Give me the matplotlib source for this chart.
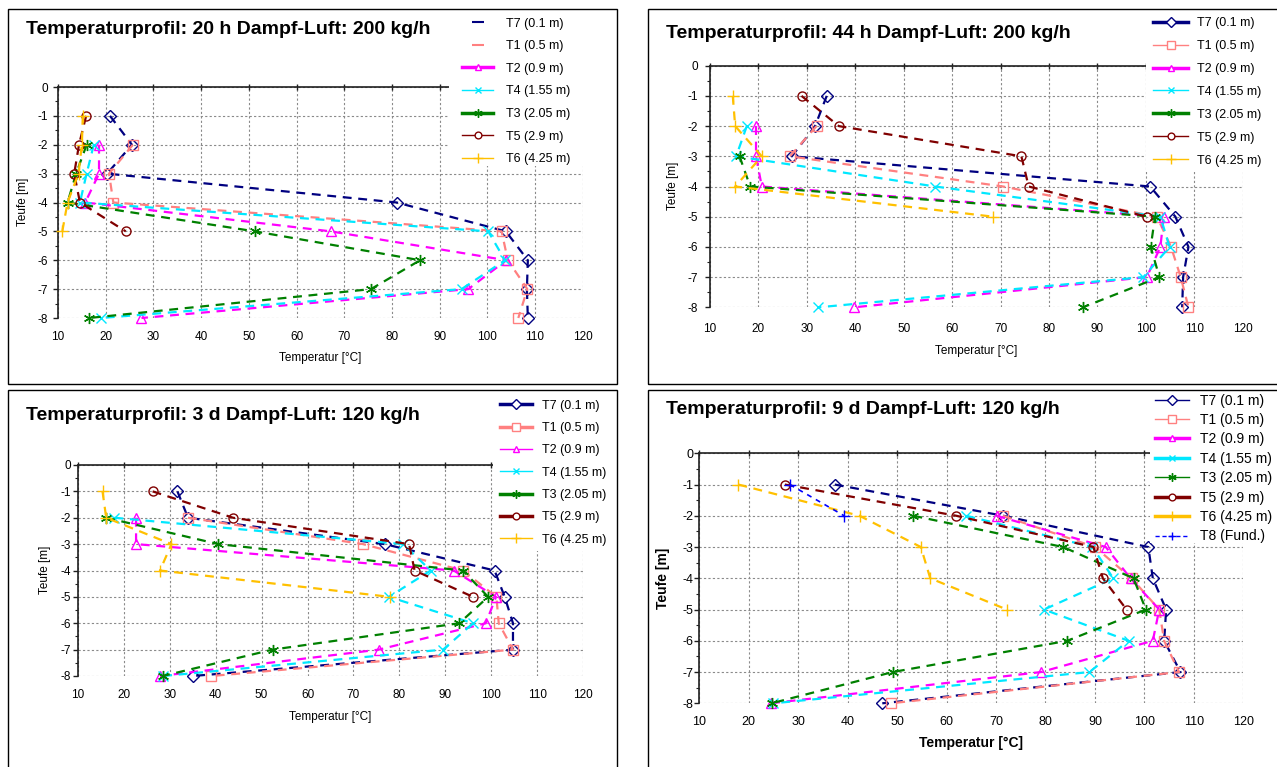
import matplotlib
matplotlib.use("Agg")
import matplotlib.pyplot as plt
from matplotlib.lines import Line2D
from matplotlib.patches import Rectangle
import numpy as np

nan = np.nan

# depth of the readings [m]
depth = [-1, -2, -3, -4, -5, -6, -7, -8]

# 20 h steam-air 200 kg/h
h20_T7 = [20.9, 25.5, 20.3, 81.0, 103.9, 108.5, 108.3, 108.5]
h20_T1 = [nan, 25.7, 20.7, 21.6, 103.0, 104.3, 108.4, 106.5]
h20_T2 = [nan, 18.6, 18.6, 15.7, 67.2, 104.0, 96.0, 27.5]
h20_T4 = [nan, 17.5, 16.0, 14.6, 100.2, 103.7, 94.6, 19.0]
h20_T3 = [nan, 16.0, 13.8, 12.0, 51.3, 85.9, 75.6, 16.5]
h20_T5 = [15.9, 14.4, 13.4, 14.6, 24.2, nan, nan, nan]
h20_T6 = [15.2, 15.0, 14.3, 12.0, 10.9, nan, nan, nan]

# 44 h steam-air 200 kg/h
h44_T7 = [34.1, 31.7, 26.9, 100.9, 106.1, 108.8, 107.7, 107.5]
h44_T1 = [nan, 32.0, 26.5, 70.5, 102.3, 105.2, 107.2, 108.8]
h44_T2 = [nan, 19.5, 19.5, 20.7, 103.7, 103.0, 100.2, 39.8]
h44_T4 = [nan, 17.6, 15.4, 56.5, 103.0, 104.9, 99.5, 32.4]
h44_T3 = [nan, nan, 16.1, 18.3, 101.9, 101.0, 102.8, 87.0]
h44_T5 = [28.9, 36.6, 74.3, 75.8, 100.2, nan, nan, nan]
h44_T6 = [14.7, 15.2, 20.7, 15.2, 68.5, nan, nan, nan]

# 3 d steam-air 120 kg/h
d3_T7 = [31.7, 34.0, 76.8, 100.7, 102.9, 104.7, 104.7, 35.0]
d3_T1 = [nan, 34.0, 72.1, 93.8, 101.1, 101.6, 104.7, 39.1]
d3_T2 = [nan, 22.7, 22.7, 91.8, 101.0, 98.8, 75.5, 27.9]
d3_T4 = [nan, 18.0, 80.8, 86.8, 77.7, 96.0, 89.5, 28.6]
d3_T3 = [nan, 16.2, 40.6, 93.8, 99.3, 93.0, 52.4, 28.5]
d3_T5 = [26.3, 43.8, 82.1, 83.3, 96.0, nan, nan, nan]
d3_T6 = [15.4, 16.2, 30.4, 27.9, 77.9, nan, nan, nan]

# 9 d steam-air 120 kg/h
d9_T7 = [37.4, 71.5, 100.8, 101.7, 104.4, 104.0, 107.3, 47.0]
d9_T1 = [nan, 71.4, 90.0, 97.4, 103.0, 104.0, 107.0, 48.7]
d9_T2 = [nan, 70.1, 92.2, 97.2, 103.0, 101.7, 79.1, 24.4]
d9_T4 = [nan, 64.0, 89.5, 93.7, 79.7, 96.8, 88.9, 25.0]
d9_T3 = [nan, 53.3, 83.6, 97.8, 100.3, 84.4, 49.1, 24.6]
d9_T5 = [27.3, 62.0, 89.7, 91.6, 96.4, nan, nan, nan]
d9_T6 = [17.9, 42.4, 54.8, 56.7, 72.2, nan, nan, nan]
d9_T8 = [28.3, 39.3, nan, nan, nan, nan, nan, nan]

labels = ["T7 (0.1 m)", "T1 (0.5 m)", "T2 (0.9 m)", "T4 (1.55 m)",
          "T3 (2.05 m)", "T5 (2.9 m)", "T6 (4.25 m)", "T8 (Fund.)"]
colors = ["#000080", "#FF8080", "#FF00FF", "#00E8FF",
          "#008000", "#800000", "#FFC000", "#0000FF"]
markers = ["D", "s", "^", "x", (6, 2, 0), "o", "+", "+"]
msizes = [6.5, 7, 6.5, 6.5, 8, 6.5, 9, 8]

W, H = 1277, 767
plt.rcParams["font.family"] = ["Liberation Sans", "DejaVu Sans"]
plt.rcParams["axes.unicode_minus"] = False
fig = plt.figure(figsize=(W / 100, H / 100), dpi=100)


def fx(px):
    return px / W


def fy(py):
    return 1 - py / H


panels = [
    dict(title="Temperaturprofil: 20 h Dampf-Luft: 200 kg/h",
         data=[h20_T7, h20_T1, h20_T2, h20_T4, h20_T3, h20_T5, h20_T6],
         ax=(58, 582.7, 87, 318), title_xy=(26, 30), box=(8, 8.7, 617, 384),
         white=(449, 9, 617, 166), leg_xy=(462, 17.5), leg_font=9,
         hl=2.5, htp=1.0, lsp=0.85, leg_lw=[1, 1, 2.5, 1, 2.5, 1, 1],
         plain=[0, 1], tick_font=8.5, xpad=7.1, ypad=3.6,
         xlab=(320, 358), ylab=(22.7, 202), lab_font=8.5, bold=False),
    dict(title="Temperaturprofil: 44 h Dampf-Luft: 200 kg/h",
         data=[h44_T7, h44_T1, h44_T2, h44_T4, h44_T3, h44_T5, h44_T6],
         ax=(710, 1242.7, 65.7, 307.3), title_xy=(666, 33), box=(648, 8.7, 1300, 384),
         white=(1146, 9, 1300, 172), leg_xy=(1153, 17.0), leg_font=9,
         hl=2.8, htp=0.7, lsp=0.875, leg_lw=[2.5, 1, 2.5, 1, 2.5, 1, 1],
         plain=[], tick_font=8.5, xpad=9.0, ypad=5.0,
         xlab=(976, 351), ylab=(672.7, 186), lab_font=8.5, bold=False),
    dict(title="Temperaturprofil: 3 d Dampf-Luft: 120 kg/h",
         data=[d3_T7, d3_T1, d3_T2, d3_T4, d3_T3, d3_T5, d3_T6],
         ax=(77.7, 583.3, 465, 676), title_xy=(26, 415), box=(8, 390, 617, 800),
         white=(493, 391, 617, 551), leg_xy=(500, 399.5), leg_font=9,
         hl=2.56, htp=0.8, lsp=0.83, leg_lw=[2.5, 2.5, 1, 1, 2.5, 2.5, 1],
         plain=[], tick_font=8.5, xpad=6.75, ypad=1.2,
         xlab=(330.5, 717), ylab=(45, 570), lab_font=8.5, bold=False),
    dict(title="Temperaturprofil: 9 d Dampf-Luft: 120 kg/h",
         data=[d9_T7, d9_T1, d9_T2, d9_T4, d9_T3, d9_T5, d9_T6, d9_T8],
         ax=(699.3, 1243.3, 453.3, 703.3), title_xy=(666, 410), box=(648, 390, 1300, 800),
         white=(1150, 391, 1300, 543), leg_xy=(1155, 393.5), leg_font=10,
         hl=2.45, htp=0.8, lsp=0.39, leg_lw=[1, 1, 2.5, 2.5, 1, 2.5, 2.5, 1],
         plain=[], tick_font=9, xpad=6.9, ypad=0.7,
         xlab=(971, 743), ylab=(662.7, 578), lab_font=10, bold=True),
]

for p in panels:
    left, right, top, bottom = p["ax"]
    ax = fig.add_axes([fx(left), fy(bottom), (right - left) / W, (bottom - top) / H])

    handles = []
    for i, vals in enumerate(p["data"]):
        dashed = (0, (3, 3)) if i == 7 else (0, (4, 3))
        lw = 1.2 if i == 7 else 1.6
        ax.plot(vals, depth, color=colors[i], linestyle=dashed, linewidth=lw,
                marker=markers[i], markersize=msizes[i], markerfacecolor="none",
                markeredgecolor=colors[i], markeredgewidth=1.0, clip_on=False,
                zorder=3)
        if i in p["plain"]:
            h = Line2D([], [], color=colors[i], linestyle="none", marker="_",
                       markersize=8, markeredgewidth=1.5)
        else:
            h = Line2D([], [], color=colors[i],
                       linestyle=(0, (3, 2)) if i == 7 else "-",
                       linewidth=p["leg_lw"][i], marker=markers[i],
                       markersize=msizes[i] * 0.75, markerfacecolor="white",
                       markeredgewidth=1.0)
        handles.append(h)

    ax.set_xlim(10, 120)
    ax.set_ylim(-8, 0)
    ax.set_xticks(range(10, 121, 10))
    ax.set_yticks(range(-8, 1))
    ax.set_yticks(np.arange(-8, 0.01, 0.5), minor=True)
    ax.grid(True, which="major", color="#8a8a8a", linestyle=(0, (2, 2)), linewidth=0.8)
    for s in ["right", "bottom"]:
        ax.spines[s].set_visible(False)
    for s in ["left", "top"]:
        ax.spines[s].set_linewidth(1.2)
        ax.spines[s].set_color("#202020")
    ax.tick_params(axis="x", which="major", top=True, bottom=False, labeltop=False,
                   labelbottom=True, direction="inout", length=4.5, width=1,
                   pad=p["xpad"], labelsize=p["tick_font"], color="#202020")
    ax.tick_params(axis="y", which="major", direction="out", length=3.6, width=1,
                   pad=p["ypad"], labelsize=p["tick_font"], color="#202020")
    ax.tick_params(axis="y", which="minor", direction="out", length=2, width=0.8,
                   color="#202020")

    weight = "bold" if p["bold"] else "normal"
    ax.set_xlabel("Temperatur [°C]", fontsize=p["lab_font"], fontweight=weight)
    ax.set_ylabel("Teufe [m]", fontsize=p["lab_font"], fontweight=weight)
    ax.xaxis.label.set_verticalalignment("center")
    ax.yaxis.label.set_verticalalignment("center")
    ax.xaxis.set_label_coords(fx(p["xlab"][0]), fy(p["xlab"][1]), transform=fig.transFigure)
    ax.yaxis.set_label_coords(fx(p["ylab"][0]), fy(p["ylab"][1]), transform=fig.transFigure)

    fig.text(fx(p["title_xy"][0]), fy(p["title_xy"][1]), p["title"], fontsize=14,
             fontweight="bold", ha="left", va="center")

    wx0, wy0, wx1, wy1 = p["white"]
    fig.add_artist(Rectangle((fx(wx0), fy(wy1)), (wx1 - wx0) / W, (wy1 - wy0) / H,
                             transform=fig.transFigure, facecolor="white",
                             edgecolor="none", zorder=2))
    bx0, by0, bx1, by1 = p["box"]
    fig.add_artist(Rectangle((fx(bx0), fy(by1)), (bx1 - bx0) / W, (by1 - by0) / H,
                             transform=fig.transFigure, facecolor="none",
                             edgecolor="black", linewidth=1.0, zorder=4))

    fig.legend(handles, labels[:len(handles)], loc="upper left",
               bbox_to_anchor=(fx(p["leg_xy"][0]), fy(p["leg_xy"][1])),
               bbox_transform=fig.transFigure, frameon=False, borderpad=0,
               borderaxespad=0, handlelength=p["hl"], handletextpad=p["htp"],
               labelspacing=p["lsp"], fontsize=p["leg_font"])

fig.savefig("out.png", dpi=100)
